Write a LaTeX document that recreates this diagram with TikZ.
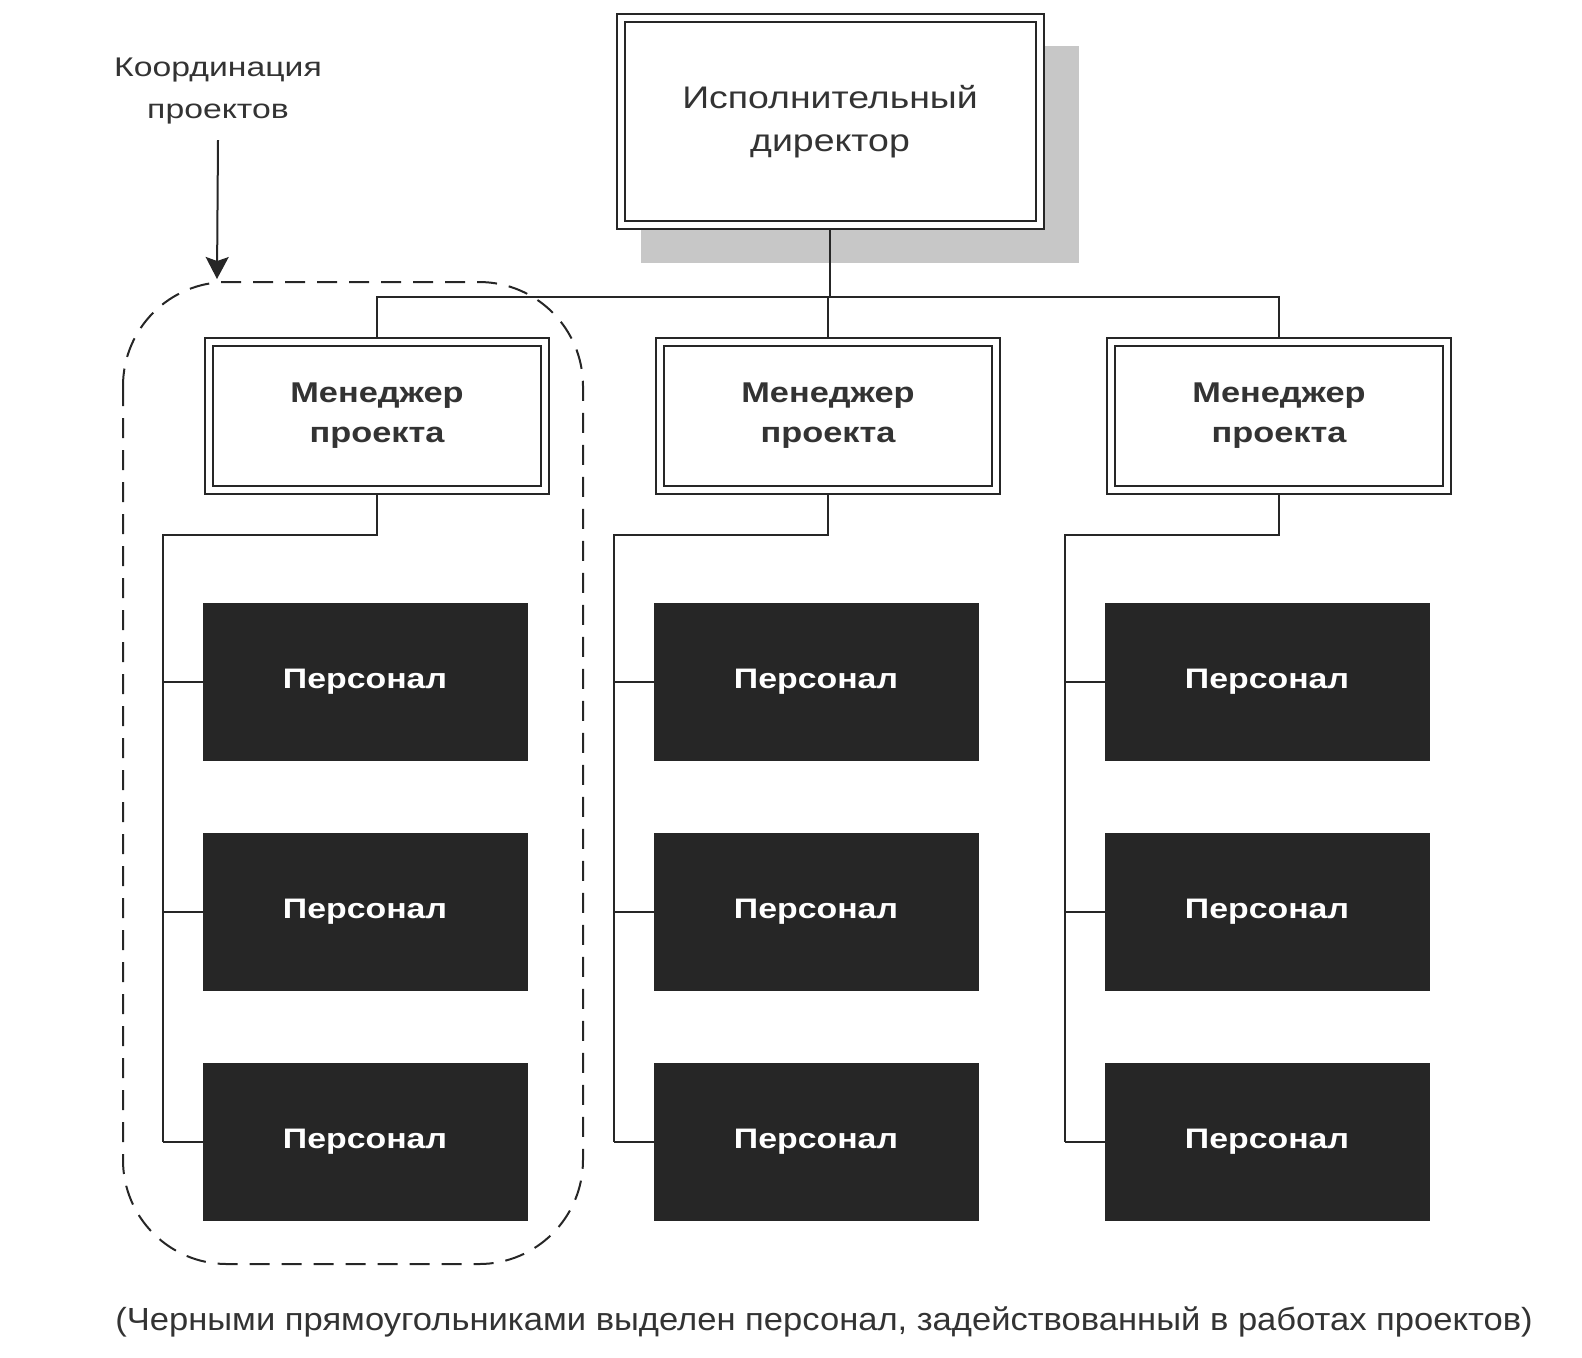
\documentclass[tikz,border=0pt]{standalone}
\usepackage{fontspec}
\setmainfont{Liberation Sans}
\newfontfamily\widefont{Liberation Sans}[FakeStretch=1.2]
\newfontfamily\notefont{Liberation Sans}[FakeStretch=1.08]
\newfontfamily\labelfont{Liberation Sans}[FakeStretch=1.25]
\usetikzlibrary{positioning, shadows, arrows.meta}
\tikzset{
  boxtext/.style = {text=black!80, align=center},
  framed/.style = {draw=black!85, line width=1pt, double, double distance=3pt, outer sep=2.5pt, fill=white},
  director/.style = {framed, boxtext, minimum width=209.5pt, minimum height=103.5pt,
    font=\widefont\fontsize{15.6}{21.5}\selectfont,
    drop shadow={shadow xshift=14.5pt, shadow yshift=-15.75pt, shadow scale=1.045, fill=black!22, opacity=1}},
  manager/.style = {framed, boxtext, minimum width=168pt, minimum height=74pt,
    font=\widefont\bfseries\fontsize{14.3}{20}\selectfont},
  staff/.style = {fill=black!85, text=white, outer sep=0, minimum width=162.5pt, minimum height=79pt,
    font=\widefont\bfseries\fontsize{14.1}{17}\selectfont},
  link/.style = {draw=black!85, line width=1pt},
}

\begin{document}
\begin{tikzpicture}[x=0.5pt, y=-0.5pt, node distance=36pt]
  \useasboundingbox (0,0) rectangle (1582,1357);

  \node (dir) [director] at (830,121.5) {Исполнительный\\директор};
  \coordinate (bus) at (828,297);

  \foreach \X/\x in {A/377, B/828, C/1279}{
    \node (mgr\X) [manager] at (\x,416) {Менеджер\\проекта};
    \node (staff\X1) [staff, below=54pt of mgr\X, xshift=-6pt] {Персонал};
    \node (staff\X2) [staff, below=of staff\X1] {Персонал};
    \node (staff\X3) [staff, below=of staff\X2] {Персонал};
    % manager --> staff
    \draw [link] (mgr\X.south) -- ++(0,-20pt) -| ([xshift=-20pt]staff\X3.west);
    \foreach \r in {1,2,3}
      \draw [link] ([xshift=-20pt]staff\X\r.west) -- (staff\X\r.west);
  }

  % director --> managers
  \draw [link] (dir.south) -- (dir.south |- bus);
  \draw [link] (mgrA.north) |- (bus) -| (mgrC.north);
  \draw [link] (mgrB.north) -- (mgrB.north |- bus);

  % project coordination
  \draw [black!85, line width=1pt, dash pattern=on 10pt off 6pt, rounded corners=52pt]
    (123,282) rectangle (583,1264);
  \node (coord) [text=black!80, align=center, font=\labelfont\fontsize{13.5}{21}\selectfont] at (218,91)
    {Координация\\проектов};
  \coordinate (coordtip) at (217,279);
  \draw [black!85, line width=1pt, -{Stealth[length=11pt, width=11.5pt, inset=2pt]}]
    (coord.south |- 0,140) -- (coordtip);

  \node (note) [text=black!80, font=\notefont\fontsize{16}{19}\selectfont] at (824,1322)
    {(Черными прямоугольниками выделен персонал, задействованный в работах проектов)};
\end{tikzpicture}
\end{document}
